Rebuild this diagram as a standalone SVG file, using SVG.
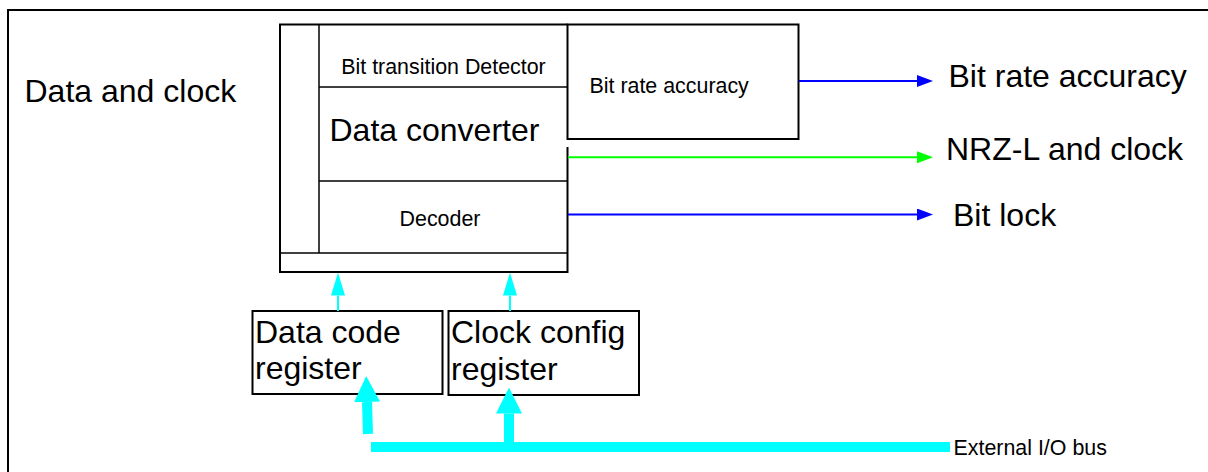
<svg xmlns="http://www.w3.org/2000/svg" width="1208" height="472" viewBox="0 0 1208 472">
<style>
text{font-family:"Liberation Sans",Arial,sans-serif;fill:#000}
.box{fill:#fff;stroke:#000;stroke-width:2}
.ln{fill:none;stroke:#000;stroke-width:1.5}
.big{font-size:32px}
.sm{font-size:21.4px}
</style>
<defs>
<marker id="hb" markerUnits="userSpaceOnUse" markerWidth="16" markerHeight="12" refX="0" refY="6" orient="auto"><path d="M0,0 L16,6 L0,12 z" fill="#0000FF"/></marker>
<marker id="hg" markerUnits="userSpaceOnUse" markerWidth="16" markerHeight="12" refX="0" refY="6" orient="auto"><path d="M0,0 L16,6 L0,12 z" fill="#00FF00"/></marker>
<marker id="hc" markerUnits="userSpaceOnUse" markerWidth="23" markerHeight="14" refX="0" refY="7" orient="auto"><path d="M0,0 L23,7 L0,14 z" fill="#00FFFF"/></marker>
<marker id="hC" markerUnits="userSpaceOnUse" markerWidth="26" markerHeight="26" refX="0" refY="13" orient="auto"><path d="M0,0 L26,13 L0,26 z" fill="#00FFFF"/></marker>
</defs>
<rect width="1208" height="472" fill="#fff"/>
<rect id="frame" x="8" y="10" width="1220" height="480" fill="none" stroke="#000" stroke-width="2"/>
<text class="big" x="24.5" y="101.5">Data and clock</text>

<g id="main-block">
<path class="box" d="M567.5,147 V272 H280 V24.5 H567.5"/>
<line class="ln" x1="319" y1="24.5" x2="319" y2="253"/>
<line class="ln" x1="280" y1="253" x2="567.5" y2="253"/>
</g>
<g id="bit-transition-detector">
<line class="ln" x1="319" y1="87" x2="567.5" y2="87"/>
<text class="sm" x="443.5" y="74.3" text-anchor="middle">Bit transition Detector</text>
</g>
<g id="data-converter">
<line class="ln" x1="319" y1="181" x2="567.5" y2="181"/>
<text class="big" x="329.5" y="141">Data converter</text>
</g>
<g id="decoder">
<text class="sm" x="440" y="226" text-anchor="middle">Decoder</text>
</g>
<g id="bit-rate-box">
<rect class="box" x="567.5" y="24.5" width="231" height="114.5"/>
<text class="sm" x="589.5" y="93.3">Bit rate accuracy</text>
</g>
<g id="data-code-register">
<rect class="box" x="252.5" y="311" width="190" height="83"/>
<text class="big" x="255" y="342.7">Data code</text>
<text class="big" x="255" y="379.3">register</text>
</g>
<g id="clock-config-register">
<rect class="box" x="448.5" y="311" width="190.5" height="84"/>
<text class="big" x="451" y="343">Clock config</text>
<text class="big" x="451" y="380">register</text>
</g>
<g id="out-labels">
<text class="big" x="948.5" y="87.3">Bit rate accuracy</text>
<text class="big" x="946" y="160">NRZ-L and clock</text>
<text class="big" x="953" y="226">Bit lock</text>
<text class="sm" x="953.5" y="455">External I/O bus</text>
</g>
<g id="connectors">
<line x1="799" y1="81" x2="917" y2="81" stroke="#0000FF" stroke-width="2" marker-end="url(#hb)"/>
<line x1="568" y1="157.3" x2="917" y2="157.3" stroke="#00FF00" stroke-width="2" marker-end="url(#hg)"/>
<line x1="568" y1="214.5" x2="917" y2="214.5" stroke="#0000FF" stroke-width="2" marker-end="url(#hb)"/>
<line x1="338" y1="311" x2="338" y2="295.5" stroke="#00FFFF" stroke-width="2" marker-end="url(#hc)"/>
<line x1="510" y1="311" x2="510" y2="295.5" stroke="#00FFFF" stroke-width="2" marker-end="url(#hc)"/>
<line x1="371" y1="447" x2="950" y2="447" stroke="#00FFFF" stroke-width="10"/>
<line x1="368" y1="434" x2="367" y2="402" stroke="#00FFFF" stroke-width="10" marker-end="url(#hC)"/>
<line x1="509" y1="443" x2="509" y2="413.5" stroke="#00FFFF" stroke-width="10" marker-end="url(#hC)"/>
</g>
</svg>
